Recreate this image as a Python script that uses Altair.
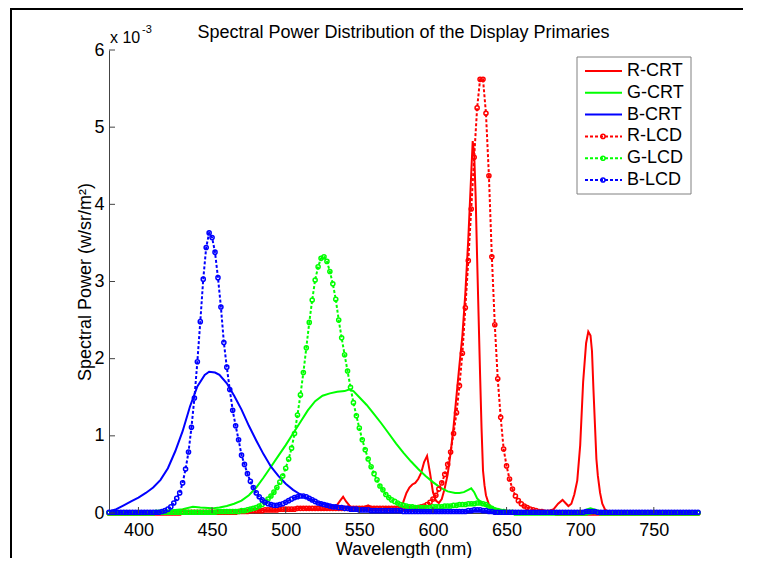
import altair as alt
import pandas as pd

TITLE = "Spectral Power Distribution of the Display Primaries"
X_TITLE = "Wavelength (nm)"
Y_TITLE = "Spectral Power (w/sr/m²)"
EXP_BASE = "x 10"
EXP_POW = "-3"
SERIES = ["R-CRT", "G-CRT", "B-CRT", "R-LCD", "G-LCD", "B-LCD"]
COLORS = ["#ff0000", "#00ff00", "#0000ff", "#ff0000", "#00ff00", "#0000ff"]
X_TICKS = [400, 450, 500, 550, 600, 650, 700, 750]
Y_TICKS = [0, 1, 2, 3, 4, 5, 6]

# ---- CRT primaries (solid lines), values in units of 1e-3 W/sr/m^2 ----
R_CRT_WL = [380, 390, 400, 410, 420, 430, 440, 450, 460, 470, 480, 490, 500, 505, 510, 515,
            520, 525, 530, 534, 537, 539, 541, 544, 548, 552, 556, 560, 565, 569, 574, 578,
            580, 582, 584, 586, 588, 590, 592, 594, 596, 598, 600, 602, 604, 606, 608, 610,
            612, 614, 616, 618, 620, 622, 624, 626, 627, 628, 629, 630, 631, 632, 633, 634,
            635, 636, 638, 640, 645, 650, 660, 670, 678, 682, 685, 688, 690, 692, 694, 696,
            698, 700, 702, 704, 705.5, 707, 708, 709, 710, 711, 712, 713.5, 715, 717, 720,
            730, 750, 780]
R_CRT = [0.0, 0.01, 0.01, 0.02, 0.02, 0.03, 0.02, 0.03, 0.02, 0.03, 0.04, 0.03, 0.05, 0.04, 0.07, 0.05,
         0.05, 0.04, 0.05, 0.08, 0.16, 0.21, 0.15, 0.08, 0.06, 0.07, 0.10, 0.06, 0.05, 0.07, 0.05, 0.07,
         0.15, 0.26, 0.33, 0.37, 0.39, 0.44, 0.52, 0.66, 0.74, 0.52, 0.27, 0.16, 0.13, 0.18, 0.32, 0.50,
         0.78, 1.12, 1.52, 1.92, 2.30, 2.85, 3.55, 4.40, 4.82, 4.65, 4.10, 3.30, 2.55, 1.80, 1.10, 0.55,
         0.36, 0.23, 0.11, 0.07, 0.03, 0.02, 0.01, 0.01, 0.02, 0.05, 0.12, 0.17, 0.13, 0.09, 0.12, 0.24,
         0.42, 0.88, 1.70, 2.20, 2.35, 2.30, 2.10, 1.60, 1.15, 0.70, 0.48, 0.26, 0.12, 0.04, 0.01,
         0.0, 0.0, 0.0]

G_CRT_WL = [380, 390, 400, 410, 420, 430, 437, 442, 450, 455, 460, 465, 470, 475, 480, 485,
            490, 495, 500, 505, 510, 515, 520, 525, 530, 535, 540, 543, 546, 550, 555, 560,
            565, 570, 575, 580, 585, 590, 595, 600, 605, 610, 615, 618, 621, 624, 626, 628,
            630, 633, 637, 641, 650, 660, 680, 698, 702, 705, 707, 709, 712, 716, 780]
G_CRT = [0.0, 0.0, 0.01, 0.02, 0.03, 0.05, 0.08, 0.07, 0.06, 0.07, 0.09, 0.12, 0.16, 0.23, 0.33, 0.46,
         0.60, 0.74, 0.88, 1.03, 1.18, 1.33, 1.45, 1.52, 1.55, 1.57, 1.58, 1.60, 1.58, 1.50, 1.40, 1.28,
         1.16, 1.03, 0.90, 0.78, 0.67, 0.57, 0.48, 0.40, 0.33, 0.28, 0.26, 0.26, 0.27, 0.30, 0.32, 0.27,
         0.19, 0.13, 0.09, 0.06, 0.03, 0.01, 0.0, 0.0, 0.02, 0.05, 0.06, 0.05, 0.02, 0.0, 0.0]

B_CRT_WL = [380, 385, 390, 395, 400, 405, 410, 415, 420, 425, 430, 435, 440, 445, 448, 452,
            455, 460, 465, 470, 475, 480, 485, 490, 495, 500, 505, 510, 515, 520, 525, 530,
            540, 550, 560, 580, 600, 620, 630, 640, 660, 700, 780]
B_CRT = [0.02, 0.05, 0.10, 0.15, 0.20, 0.26, 0.33, 0.43, 0.58, 0.80, 1.06, 1.38, 1.64, 1.79, 1.83, 1.82,
         1.79, 1.68, 1.52, 1.34, 1.13, 0.94, 0.76, 0.60, 0.48, 0.38, 0.30, 0.24, 0.19, 0.15, 0.12, 0.10,
         0.07, 0.05, 0.04, 0.03, 0.02, 0.02, 0.03, 0.01, 0.01, 0.01, 0.01]

# ---- LCD primaries (dotted lines with circles), sampled every 2 nm from 380 to 780 ----
LCD_WL = list(range(380, 781, 2))
R_LCD = [
    0.00, 0.00, 0.00, 0.00, 0.00, 0.00, 0.00, 0.00, 0.00, 0.00,  # 380
    0.00, 0.00, 0.00, 0.00, 0.00, 0.00, 0.00, 0.00, 0.00, 0.00,  # 400
    0.00, 0.00, 0.00, 0.00, 0.00, 0.01, 0.01, 0.01, 0.01, 0.01,  # 420
    0.01, 0.01, 0.01, 0.01, 0.01, 0.01, 0.01, 0.01, 0.01, 0.01,  # 440
    0.01, 0.01, 0.01, 0.01, 0.02, 0.02, 0.02, 0.02, 0.03, 0.03,  # 460
    0.03, 0.03, 0.03, 0.04, 0.04, 0.04, 0.04, 0.04, 0.05, 0.05,  # 480
    0.05, 0.05, 0.05, 0.05, 0.06, 0.06, 0.06, 0.06, 0.06, 0.06,  # 500
    0.06, 0.06, 0.06, 0.06, 0.06, 0.06, 0.06, 0.06, 0.06, 0.06,  # 520
    0.06, 0.06, 0.06, 0.06, 0.06, 0.06, 0.06, 0.06, 0.06, 0.06,  # 540
    0.06, 0.06, 0.06, 0.06, 0.06, 0.06, 0.06, 0.06, 0.06, 0.06,  # 560
    0.06, 0.06, 0.06, 0.06, 0.06, 0.07, 0.08, 0.09, 0.11, 0.14,  # 580
    0.18, 0.23, 0.31, 0.39, 0.50, 0.63, 0.79, 1.03, 1.30, 1.65,  # 600
    2.07, 2.66, 3.27, 3.94, 4.61, 5.25, 5.62, 5.62, 5.18, 4.37,  # 620
    3.32, 2.44, 1.74, 1.24, 0.83, 0.61, 0.44, 0.31, 0.22, 0.16,  # 640
    0.12, 0.09, 0.07, 0.05, 0.04, 0.03, 0.02, 0.02, 0.01, 0.01,  # 660
    0.01, 0.01, 0.00, 0.00, 0.00, 0.00, 0.00, 0.00, 0.00, 0.00,  # 680
    0.00, 0.00, 0.00, 0.00, 0.00, 0.00, 0.00, 0.00, 0.00, 0.00,  # 700
    0.00, 0.00, 0.00, 0.00, 0.00, 0.00, 0.00, 0.00, 0.00, 0.00,  # 720
    0.00, 0.00, 0.00, 0.00, 0.00, 0.00, 0.00, 0.00, 0.00, 0.00,  # 740
    0.00, 0.00, 0.00, 0.00, 0.00, 0.00, 0.00, 0.00, 0.00, 0.00,  # 760
    0.00,                                                        # 780
]
G_LCD = [
    0.00, 0.00, 0.00, 0.00, 0.00, 0.00, 0.00, 0.00, 0.00, 0.00,  # 380
    0.00, 0.00, 0.00, 0.00, 0.00, 0.00, 0.01, 0.01, 0.01, 0.01,  # 400
    0.01, 0.01, 0.01, 0.01, 0.01, 0.01, 0.01, 0.01, 0.01, 0.01,  # 420
    0.01, 0.01, 0.01, 0.01, 0.01, 0.01, 0.01, 0.02, 0.02, 0.02,  # 440
    0.02, 0.02, 0.02, 0.02, 0.02, 0.03, 0.03, 0.04, 0.05, 0.06,  # 460
    0.07, 0.09, 0.11, 0.14, 0.18, 0.22, 0.27, 0.33, 0.40, 0.48,  # 480
    0.58, 0.70, 0.84, 1.03, 1.27, 1.53, 1.82, 2.14, 2.47, 2.76,  # 500
    3.02, 3.19, 3.30, 3.32, 3.26, 3.13, 2.97, 2.77, 2.50, 2.27,  # 520
    2.05, 1.84, 1.63, 1.43, 1.26, 1.10, 0.95, 0.82, 0.70, 0.60,  # 540
    0.51, 0.43, 0.35, 0.30, 0.24, 0.20, 0.17, 0.15, 0.13, 0.11,  # 560
    0.10, 0.09, 0.08, 0.08, 0.07, 0.07, 0.07, 0.07, 0.07, 0.07,  # 580
    0.08, 0.08, 0.08, 0.08, 0.09, 0.09, 0.09, 0.10, 0.10, 0.11,  # 600
    0.11, 0.11, 0.12, 0.12, 0.12, 0.13, 0.13, 0.12, 0.11, 0.08,  # 620
    0.06, 0.04, 0.03, 0.02, 0.02, 0.01, 0.01, 0.01, 0.00, 0.00,  # 640
    0.00, 0.00, 0.00, 0.00, 0.00, 0.00, 0.00, 0.00, 0.00, 0.00,  # 660
    0.00, 0.00, 0.00, 0.00, 0.00, 0.00, 0.00, 0.00, 0.00, 0.00,  # 680
    0.00, 0.00, 0.00, 0.01, 0.02, 0.02, 0.01, 0.00, 0.00, 0.00,  # 700
    0.00, 0.00, 0.00, 0.00, 0.00, 0.00, 0.00, 0.00, 0.00, 0.00,  # 720
    0.00, 0.00, 0.00, 0.00, 0.00, 0.00, 0.00, 0.00, 0.00, 0.00,  # 740
    0.00, 0.00, 0.00, 0.00, 0.00, 0.00, 0.00, 0.00, 0.00, 0.00,  # 760
    0.00,                                                        # 780
]
B_LCD = [
    0.01, 0.01, 0.01, 0.01, 0.01, 0.01, 0.01, 0.01, 0.01, 0.01,  # 380
    0.01, 0.01, 0.01, 0.01, 0.01, 0.01, 0.01, 0.01, 0.02, 0.03,  # 400
    0.05, 0.08, 0.13, 0.19, 0.26, 0.39, 0.57, 0.79, 1.11, 1.49,  # 420
    1.96, 2.48, 3.03, 3.44, 3.63, 3.57, 3.38, 3.05, 2.67, 2.21,  # 440
    1.89, 1.60, 1.33, 1.13, 0.95, 0.75, 0.63, 0.51, 0.41, 0.33,  # 460
    0.26, 0.21, 0.17, 0.14, 0.12, 0.11, 0.10, 0.10, 0.11, 0.12,  # 480
    0.14, 0.16, 0.18, 0.20, 0.21, 0.22, 0.22, 0.21, 0.19, 0.17,  # 500
    0.15, 0.13, 0.12, 0.11, 0.10, 0.09, 0.08, 0.08, 0.07, 0.07,  # 520
    0.06, 0.06, 0.05, 0.05, 0.05, 0.04, 0.04, 0.04, 0.04, 0.03,  # 540
    0.03, 0.03, 0.03, 0.03, 0.03, 0.03, 0.03, 0.03, 0.03, 0.03,  # 560
    0.02, 0.02, 0.02, 0.02, 0.02, 0.02, 0.02, 0.02, 0.02, 0.02,  # 580
    0.02, 0.02, 0.02, 0.02, 0.02, 0.02, 0.02, 0.02, 0.02, 0.02,  # 600
    0.02, 0.02, 0.03, 0.03, 0.04, 0.04, 0.04, 0.03, 0.03, 0.02,  # 620
    0.02, 0.01, 0.01, 0.01, 0.01, 0.01, 0.01, 0.01, 0.01, 0.01,  # 640
    0.01, 0.01, 0.01, 0.01, 0.01, 0.01, 0.01, 0.01, 0.01, 0.01,  # 660
    0.01, 0.01, 0.01, 0.01, 0.01, 0.01, 0.01, 0.01, 0.01, 0.01,  # 680
    0.01, 0.01, 0.02, 0.02, 0.02, 0.02, 0.01, 0.01, 0.01, 0.01,  # 700
    0.01, 0.01, 0.01, 0.01, 0.01, 0.01, 0.01, 0.01, 0.01, 0.01,  # 720
    0.01, 0.01, 0.01, 0.01, 0.01, 0.01, 0.01, 0.01, 0.01, 0.01,  # 740
    0.01, 0.01, 0.01, 0.01, 0.01, 0.01, 0.01, 0.01, 0.01, 0.01,  # 760
    0.01,                                                        # 780
]
assert len(R_LCD) == len(G_LCD) == len(B_LCD) == len(LCD_WL)

FONT = "Liberation Sans"
W, H = 589, 463
FS = 18
MSIZE = 17

XSCALE = alt.Scale(domain=[380, 780], nice=False, zero=False)
YSCALE = alt.Scale(domain=[0, 6], nice=False, zero=False)
XAXIS = alt.Axis(values=X_TICKS, title=X_TITLE, ticks=False, grid=False, domainColor="#444",
                 domainWidth=1, labelFont=FONT, labelFontSize=FS, labelColor="black",
                 labelPadding=8, labelFlush=False, labelOverlap=False, titleFont=FONT,
                 titleFontSize=FS, titleFontWeight="normal", titleColor="black",
                 titleY=41, titleBaseline="alphabetic")
YAXIS = alt.Axis(values=Y_TICKS, format="d", title=Y_TITLE, ticks=False, grid=False,
                 domainColor="#444", domainWidth=1, labelFont=FONT, labelFontSize=FS,
                 labelColor="black", labelPadding=5, labelFlush=False, labelOverlap=False,
                 titleFont=FONT, titleFontSize=FS, titleFontWeight="normal", titleColor="black",
                 titleX=-19, titleY=H / 2, titleAngle=270, titleBaseline="alphabetic",
                 titleAlign="center")


def X():
    return alt.X("wl:Q", scale=XSCALE, axis=XAXIS)


def Y():
    return alt.Y("v:Q", scale=YSCALE, axis=YAXIS)


ONE = pd.DataFrame({"a": [0]})
layers = []

crt = [(R_CRT_WL, R_CRT), (G_CRT_WL, G_CRT), (B_CRT_WL, B_CRT)]
for i, (wl, vals) in enumerate(crt):
    df = pd.DataFrame({"wl": wl, "v": vals})
    layers.append(alt.Chart(df).mark_line(color=COLORS[i], strokeWidth=2).encode(x=X(), y=Y()))

lcd = [R_LCD, G_LCD, B_LCD]
for j, vals in enumerate(lcd):
    i = j + 3
    df = pd.DataFrame({"wl": LCD_WL, "v": vals})
    layers.append(alt.Chart(df).mark_line(color=COLORS[i], strokeWidth=2, strokeDash=[3, 2])
                  .encode(x=X(), y=Y()))
    layers.append(alt.Chart(df).mark_point(color=COLORS[i], shape="circle", filled=False,
                                           size=MSIZE, strokeWidth=1.5, opacity=1)
                  .encode(x=X(), y=Y()))

# inward tick marks (MATLAB style)
layers.append(alt.Chart(pd.DataFrame({"wl": X_TICKS})).mark_rule(color="#444", strokeWidth=1)
              .encode(x=X(), y=alt.value(H), y2=alt.value(H - 6)))
layers.append(alt.Chart(pd.DataFrame({"v": Y_TICKS})).mark_rule(color="#444", strokeWidth=1)
              .encode(y=Y(), x=alt.value(0), x2=alt.value(6)))

# exponent label
layers.append(alt.Chart(ONE).mark_text(text=EXP_BASE, font=FONT, fontSize=16, align="left",
                                       baseline="alphabetic", color="black")
              .encode(x=alt.value(1), y=alt.value(-7)))
layers.append(alt.Chart(ONE).mark_text(text=EXP_POW, font=FONT, fontSize=11, align="left",
                                       baseline="alphabetic", color="black")
              .encode(x=alt.value(33), y=alt.value(-17)))

# title
layers.append(alt.Chart(ONE).mark_text(text=TITLE, font=FONT, fontSize=FS, align="center",
                                       baseline="alphabetic", color="black")
              .encode(x=alt.value(W / 2), y=alt.value(-12)))

# legend
LX0, LX1, LY0, LY1 = 468, 582, 7, 144
layers.append(alt.Chart(ONE).mark_rect(fill="white", stroke="#808080", strokeWidth=1)
              .encode(x=alt.value(LX0), x2=alt.value(LX1), y=alt.value(LY0), y2=alt.value(LY1)))
for i, name in enumerate(SERIES):
    yy = 21 + 21.8 * i
    kw = dict(color=COLORS[i], strokeWidth=2)
    if i >= 3:
        kw["strokeDash"] = [3, 2]
    layers.append(alt.Chart(ONE).mark_rule(**kw)
                  .encode(x=alt.value(476), x2=alt.value(513), y=alt.value(yy), y2=alt.value(yy)))
    if i >= 3:
        layers.append(alt.Chart(ONE).mark_point(color=COLORS[i], shape="circle", filled=False,
                                                size=MSIZE, strokeWidth=1.5, opacity=1)
                      .encode(x=alt.value(494), y=alt.value(yy)))
    layers.append(alt.Chart(ONE).mark_text(text=name, font=FONT, fontSize=FS, align="left",
                                           baseline="middle", color="black")
                  .encode(x=alt.value(518), y=alt.value(yy)))

# figure frame (top and left edges)
layers.append(alt.Chart(ONE).mark_rule(color="black", strokeWidth=2)
              .encode(x=alt.value(-99), x2=alt.value(660), y=alt.value(-41), y2=alt.value(-41)))
layers.append(alt.Chart(ONE).mark_rule(color="black", strokeWidth=2)
              .encode(x=alt.value(-98), x2=alt.value(-98), y=alt.value(-42), y2=alt.value(H + 50)))

chart = alt.layer(*layers).properties(
    width=W, height=H,
    padding={"left": 101, "top": 42, "right": 45, "bottom": 45},
    autosize=alt.AutoSizeParams(type="none"),
).configure_view(stroke=None)

chart.save("out.html", embed_options={"renderer": "svg", "actions": False})
